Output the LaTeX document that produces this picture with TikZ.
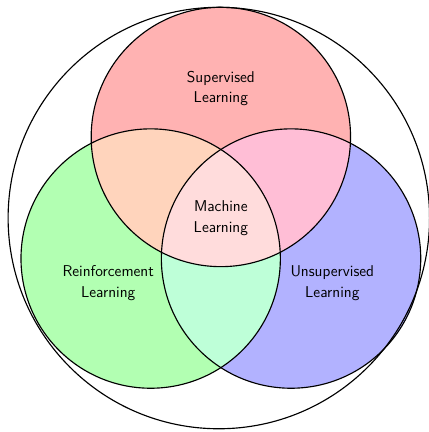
\documentclass[tikz,border=0pt]{standalone}
\usetikzlibrary{positioning}
\definecolor{supreinf}{RGB}{255,212,188}
\definecolor{supunsup}{RGB}{255,190,214}
\definecolor{reinfunsup}{RGB}{190,255,216}
\definecolor{mlcore}{RGB}{255,220,220}
\tikzstyle{setline} = [thick, draw=black]
\tikzstyle{settext} = [align=center, font=\sffamily\fontsize{11}{14.5}\selectfont]

\begin{document}
\begin{tikzpicture}
    \useasboundingbox (-5.45,-5.28) rectangle (5.12,5.38);
    \coordinate (sup) at (0,2);
    \coordinate (reinf) at (-1.732,-1);
    \coordinate (unsup) at (1.732,-1);
    \coordinate (all) at (-0.05,0);
    % the three sets
    \fill [red!30] (sup) circle (3.2);
    \fill [green!30] (reinf) circle (3.2);
    \fill [blue!30] (unsup) circle (3.2);
    % pairwise overlaps
    \begin{scope}
        \clip (sup) circle (3.2);
        \fill [supreinf] (reinf) circle (3.2);
        \fill [supunsup] (unsup) circle (3.2);
    \end{scope}
    \begin{scope}
        \clip (reinf) circle (3.2);
        \fill [reinfunsup] (unsup) circle (3.2);
    \end{scope}
    % centre
    \begin{scope}
        \clip (sup) circle (3.2);
        \clip (reinf) circle (3.2);
        \fill [mlcore] (unsup) circle (3.2);
    \end{scope}
    % outlines
    \draw [setline] (all) circle (5.2);
    \draw [setline] (sup) circle (3.2);
    \draw [setline] (reinf) circle (3.2);
    \draw [setline] (unsup) circle (3.2);
    % labels
    \node [settext] at (0,3.2) (suplabel) {Supervised\\Learning};
    \node [settext] at (0,0) (mllabel) {Machine\\Learning};
    \node [settext] at (-2.78,-1.6) (reinflabel) {Reinforcement\\Learning};
    \node [settext] at (2.75,-1.6) (unsuplabel) {Unsupervised\\Learning};
\end{tikzpicture}
\end{document}
